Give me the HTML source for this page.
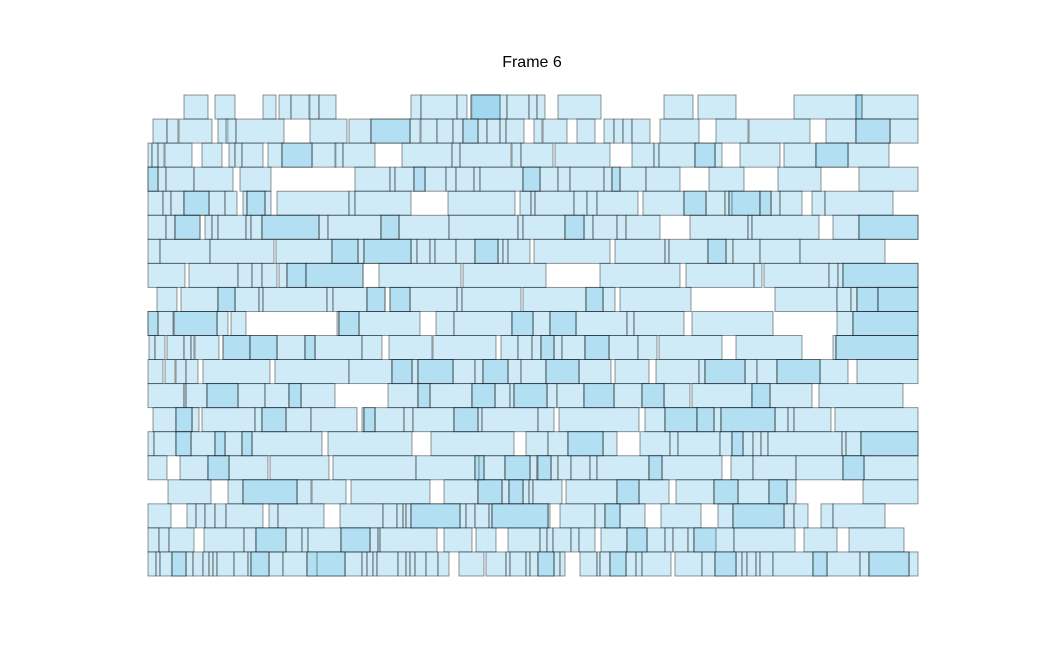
<!DOCTYPE html>
<html><head><meta charset="utf-8"><style>
body{margin:0;background:#fff}
svg{display:block}
</style></head><body>
<svg id="chart" width="1040" height="665" xmlns="http://www.w3.org/2000/svg">
<text x="532" y="67" text-anchor="middle" font-family="Liberation Sans, DejaVu Sans, sans-serif" font-size="16">Frame 6</text>
<g id="bars"></g>
</svg>
<script>
const xDomain = [148, 918];
const rowCount = 20;
const row0 = [[184,208],[215,235],[263,276],[279,291],[291,310],[309,319],[319,336],[411,421],[421,457],[457,467],[472,500],[471,507],[507,529],[529,537],[537,545],[558,601],[664,693],[698,736],[794,862],[856,918]];
const row1 = [[153,167],[167,178],[179,212],[218,228],[226,236],[236,284],[310,347],[349,371],[371,410],[410,420],[421,437],[437,453],[453,463],[463,478],[478,487],[487,500],[500,506],[506,524],[534,542],[543,567],[577,595],[604,614],[614,623],[623,632],[632,650],[660,699],[716,748],[749,810],[826,856],[856,890],[890,918]];
const row2 = [[148,152],[152,158],[158,164],[165,192],[202,222],[229,235],[235,242],[242,263],[268,282],[282,312],[312,336],[335,343],[343,375],[402,452],[452,460],[460,511],[512,521],[521,553],[555,610],[632,654],[654,659],[659,695],[695,715],[715,722],[740,780],[784,816],[816,848],[848,889]];
const row3 = [[148,158],[158,166],[166,194],[194,233],[240,271],[355,390],[390,395],[395,414],[414,425],[425,446],[446,456],[456,474],[474,480],[480,523],[523,540],[540,558],[558,570],[570,604],[604,612],[612,620],[620,646],[646,680],[709,744],[778,821],[859,918]];
const row4 = [[148,163],[163,171],[171,184],[184,209],[209,225],[225,237],[243,247],[247,265],[265,271],[277,349],[349,355],[355,411],[448,515],[520,531],[531,535],[535,574],[574,587],[587,597],[597,638],[643,684],[684,706],[706,725],[725,729],[729,732],[732,760],[760,771],[771,780],[780,802],[812,825],[825,893]];
const row5 = [[148,166],[166,175],[175,200],[205,212],[212,218],[218,246],[246,251],[251,262],[262,319],[319,328],[328,381],[381,399],[399,449],[449,518],[518,523],[523,565],[565,584],[584,593],[593,617],[617,626],[626,660],[690,748],[748,752],[752,819],[833,859],[859,918]];
const row6 = [[148,160],[160,210],[210,274],[276,332],[332,358],[358,364],[364,411],[411,417],[417,430],[430,435],[435,456],[456,475],[475,498],[498,503],[503,508],[508,530],[534,610],[615,665],[665,669],[669,708],[708,726],[726,733],[733,760],[760,800],[800,885]];
const row7 = [[148,185],[189,238],[238,252],[252,262],[262,277],[279,287],[287,306],[306,363],[379,461],[463,546],[600,680],[686,754],[754,762],[764,829],[829,838],[838,843],[843,918]];
const row8 = [[157,177],[181,218],[218,235],[235,259],[259,263],[263,327],[327,333],[333,367],[367,385],[390,410],[410,457],[457,462],[462,521],[523,586],[586,603],[603,615],[620,691],[775,837],[837,851],[851,857],[857,878],[878,918]];
const row9 = [[148,158],[158,173],[174,217],[217,228],[231,246],[337,339],[339,359],[359,420],[436,454],[454,512],[512,533],[533,550],[550,576],[576,627],[627,634],[634,684],[692,773],[837,853],[853,918]];
const row10 = [[149,155],[155,165],[167,184],[184,191],[191,194],[195,219],[223,250],[250,277],[277,305],[305,315],[315,362],[362,382],[389,432],[433,496],[501,518],[518,532],[532,541],[541,554],[554,562],[562,585],[585,609],[609,638],[638,657],[659,722],[736,802],[833,836],[836,918]];
const row11 = [[148,163],[165,175],[176,186],[186,198],[203,270],[275,349],[349,392],[392,412],[412,418],[418,453],[453,475],[475,483],[483,508],[508,521],[521,546],[546,579],[579,611],[615,649],[656,699],[699,705],[705,745],[745,757],[757,777],[777,820],[820,848],[857,918]];
const row12 = [[148,184],[184,186],[186,207],[207,238],[238,265],[265,289],[289,301],[301,335],[388,418],[418,430],[430,472],[472,495],[495,510],[510,514],[514,547],[547,557],[557,584],[584,614],[614,642],[642,664],[664,690],[692,752],[752,770],[770,812],[819,903]];
const row13 = [[153,176],[176,192],[192,199],[202,255],[255,262],[262,286],[286,311],[311,357],[362,364],[364,375],[375,404],[404,413],[413,454],[454,478],[478,482],[482,538],[538,554],[559,639],[645,665],[665,697],[697,714],[714,721],[721,775],[775,788],[788,794],[794,831],[835,918]];
const row14 = [[148,154],[154,176],[176,191],[191,215],[215,225],[225,242],[242,252],[252,322],[328,412],[431,514],[526,548],[548,568],[568,603],[603,617],[640,670],[670,678],[678,720],[720,732],[732,743],[743,753],[753,761],[761,768],[768,842],[842,846],[846,861],[861,918]];
const row15 = [[148,167],[180,208],[208,229],[229,268],[270,329],[333,416],[416,475],[475,479],[479,484],[484,505],[505,530],[530,537],[537,551],[551,558],[558,571],[571,590],[590,597],[597,649],[649,662],[662,722],[731,753],[753,796],[796,843],[843,864],[864,918]];
const row16 = [[168,211],[228,243],[243,297],[297,311],[312,346],[351,430],[444,478],[478,502],[502,509],[509,523],[523,529],[529,533],[533,562],[566,617],[617,639],[639,669],[676,714],[714,738],[738,769],[769,787],[787,796],[863,918]];
const row17 = [[148,171],[187,196],[196,205],[205,215],[215,226],[226,263],[269,278],[278,324],[340,383],[383,397],[397,403],[403,406],[406,411],[411,460],[460,466],[466,475],[475,489],[489,492],[492,548],[548,550],[560,595],[595,605],[605,620],[620,645],[661,701],[718,733],[733,784],[784,794],[794,808],[821,833],[833,885]];
const row18 = [[148,159],[159,169],[169,194],[204,244],[244,256],[256,286],[286,302],[302,308],[308,341],[341,370],[370,378],[378,380],[380,437],[444,472],[476,496],[508,540],[540,547],[547,553],[553,571],[571,579],[579,595],[601,627],[627,647],[647,665],[665,673],[673,688],[688,694],[694,734],[734,795],[804,837],[849,904]];
const row19 = [[148,156],[156,160],[160,172],[172,186],[186,193],[193,203],[203,209],[209,213],[213,217],[217,234],[234,248],[248,251],[251,269],[269,283],[283,307],[307,317],[317,345],[345,362],[362,367],[367,373],[373,377],[377,398],[398,406],[406,410],[410,415],[415,426],[426,438],[438,449],[459,484],[486,506],[506,510],[510,526],[526,530],[530,538],[538,554],[554,560],[560,565],[580,597],[597,600],[600,610],[610,626],[626,636],[636,642],[642,671],[675,702],[702,715],[715,736],[736,742],[742,747],[747,756],[756,760],[760,773],[773,813],[813,827],[827,860],[860,869],[869,909],[909,918]];
const rows = [row0,row1,row2,row3,row4,row5,row6,row7,row8,row9,row10,row11,row12,row13,row14,row15,row16,row17,row18,row19];

const over0 = [[471,500],[856,862]];
const over1 = [[371,410],[463,478],[856,890]];
const over2 = [[282,312],[816,848],[695,715]];
const over3 = [[148,158],[414,425],[523,540],[612,620]];
const over4 = [[184,209],[247,265],[684,706],[729,760],[760,771]];
const over5 = [[175,200],[262,319],[381,399],[565,584],[859,918]];
const over6 = [[332,358],[364,411],[475,498],[708,726]];
const over7 = [[287,306],[306,363],[843,918]];
const over8 = [[218,235],[367,385],[390,410],[586,603],[857,878],[878,918]];
const over9 = [[148,158],[174,217],[339,359],[512,533],[550,576],[853,918]];
const over10 = [[223,250],[250,277],[305,315],[541,554],[585,609],[836,918]];
const over11 = [[392,412],[418,453],[483,508],[546,579],[705,745],[777,820]];
const over12 = [[207,238],[289,301],[418,430],[472,495],[514,547],[584,614],[642,664],[752,770]];
const over13 = [[176,192],[262,286],[364,375],[454,478],[665,697],[697,714],[721,775]];
const over14 = [[176,191],[215,225],[242,252],[568,603],[732,743],[861,918]];
const over15 = [[208,229],[475,484],[505,530],[538,551],[649,662],[843,864]];
const over16 = [[243,297],[478,502],[509,523],[617,639],[714,738],[769,787]];
const over17 = [[411,460],[492,548],[605,620],[733,784]];
const over18 = [[256,286],[341,370],[627,647],[694,716]];
const over19 = [[172,186],[251,269],[307,345],[538,554],[610,626],[715,736],[813,827],[869,909]];
const overlaps = [over0,over1,over2,over3,over4,over5,over6,over7,over8,over9,over10,over11,over12,over13,over14,over15,over16,over17,over18,over19];

const plotLeft = 148, plotRight = 918, plotTop = 95, plotBottom = 576;
function xScale(v){ return plotLeft + (v - xDomain[0]) / (xDomain[1] - xDomain[0]) * (plotRight - plotLeft); }
const rowH = (plotBottom - plotTop) / rowCount;
function yScale(r){ return plotTop + r * rowH; }

const g = document.getElementById('bars');
const NS = 'http://www.w3.org/2000/svg';
function drawSet(sets, name){
  sets.forEach((segs, r) => {
    segs.forEach((s) => {
      const rect = document.createElementNS(NS, 'rect');
      const x0 = xScale(s[0]), x1 = xScale(s[1]);
      rect.setAttribute('x', x0);
      rect.setAttribute('y', yScale(r));
      rect.setAttribute('width', Math.max(0.5, x1 - x0));
      rect.setAttribute('height', rowH);
      rect.setAttribute('fill', 'rgba(135,206,235,0.4)');
      rect.setAttribute('stroke', 'rgba(0,0,0,0.45)');
      rect.setAttribute('stroke-width', '0.9');
      
      
      g.appendChild(rect);
    });
  });
}
drawSet(rows, 'task-bar');
drawSet(overlaps, 'overlap-bar');
</script>
</body></html>
